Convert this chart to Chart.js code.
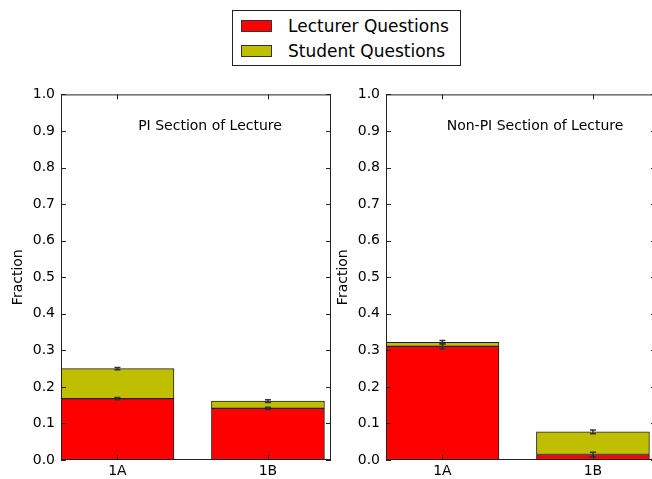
<!DOCTYPE html>
<html>
<head>
<meta charset="utf-8">
<script src="https://cdn.jsdelivr.net/npm/chart.js@4"></script>
<style>
  html, body { margin: 0; padding: 0; background: #fff; overflow: hidden; width: 652px; height: 479px; }
  .panel { position: absolute; top: 80px; width: 340px; height: 399px; }
  #legend {
    position: absolute; left: 232px; top: 10px; width: 229px; height: 56px;
    border: 1px solid #222; box-sizing: border-box; background: #fff;
    font-family: "DejaVu Sans", sans-serif; font-size: 17px; color: #000;
  }
  .item { position: absolute; left: 8px; height: 20px; line-height: 20px; }
  .swatch { position: absolute; left: 0; top: 4px; width: 31px; height: 12px; border: 1px solid #333; box-sizing: border-box; }
  .item span { position: absolute; left: 47px; white-space: nowrap; }
</style>
</head>
<body>
<div id="legend"></div>
<div class="panel" style="left:0px"><canvas id="piChart" width="340" height="399"></canvas></div>
<div class="panel" style="left:325px"><canvas id="nonPiChart" width="340" height="399"></canvas></div>
<script>
const categories = ['1A', '1B'];
const seriesNames = ['Lecturer Questions', 'Student Questions'];
const seriesColors = ['#ff0000', '#bfbf00'];
const yTicks = [0, 0.1, 0.2, 0.3, 0.4, 0.5, 0.6, 0.7, 0.8, 0.9, 1.0];

const piLecturer = [0.168, 0.141];
const piStudent = [0.082, 0.020];
const piLecturerErr = [0.003, 0.003];
const piStudentErr = [0.003, 0.004];

const nonPiLecturer = [0.311, 0.015];
const nonPiStudent = [0.011, 0.062];
const nonPiLecturerErr = [0.007, 0.006];
const nonPiStudentErr = [0.005, 0.005];

const FONT = '"DejaVu Sans", sans-serif';

// legend
const legend = document.getElementById('legend');
seriesNames.forEach((name, i) => {
    const d = document.createElement('div');
    d.className = 'item';
    d.style.top = (5 + i * 25) + 'px';
    d.innerHTML = '<div class="swatch" style="background:' + seriesColors[i] + '"></div><span>' + name + '</span>';
    legend.appendChild(d);
});

// frame, inward ticks, error bars, annotation
const decorations = {
    id: 'decorations',
    afterDatasetsDraw(chart, args, opts) {
        const ctx = chart.ctx;
        const a = chart.chartArea;
        const xs = chart.scales.x, ys = chart.scales.y;
        ctx.save();

        // error bars at the top of each stacked segment
        ctx.strokeStyle = '#333';
        ctx.lineWidth = 1.5;
        const totals = [0, 0];
        chart.data.datasets.forEach((ds, di) => {
            ds.data.forEach((p, i) => {
                totals[i] += p.y;
                const err = ds.errors[i];
                const x = xs.getPixelForValue(p.x);
                const y1 = ys.getPixelForValue(totals[i] - err);
                const y2 = ys.getPixelForValue(totals[i] + err);
                ctx.beginPath();
                ctx.moveTo(x, y1); ctx.lineTo(x, y2);
                ctx.moveTo(x - 3, y1); ctx.lineTo(x + 3, y1);
                ctx.moveTo(x - 3, y2); ctx.lineTo(x + 3, y2);
                ctx.stroke();
            });
        });

        // box and inward ticks
        ctx.strokeStyle = '#222';
        ctx.lineWidth = 1;
        ctx.strokeRect(a.left + 0.5, a.top + 0.5, a.right - a.left - 1, a.bottom - a.top - 1);
        ctx.beginPath();
        yTicks.forEach(v => {
            const y = Math.round(ys.getPixelForValue(v)) + 0.5;
            ctx.moveTo(a.left, y); ctx.lineTo(a.left + 5, y);
            ctx.moveTo(a.right, y); ctx.lineTo(a.right - 5, y);
        });
        categories.forEach((c, i) => {
            const x = Math.round(xs.getPixelForValue(i)) + 0.5;
            ctx.moveTo(x, a.bottom); ctx.lineTo(x, a.bottom - 5);
            ctx.moveTo(x, a.top); ctx.lineTo(x, a.top + 5);
        });
        ctx.stroke();

        // panel label
        ctx.fillStyle = '#000';
        ctx.font = '14px ' + FONT;
        ctx.textAlign = 'center';
        ctx.textBaseline = 'middle';
        ctx.fillText(opts.text, a.left + (a.right - a.left) * 0.552, ys.getPixelForValue(0.913));
        ctx.restore();
    }
};

function makeChart(id, lecturer, student, lecErr, stuErr, label) {
    const toPoints = arr => arr.map((v, i) => ({ x: i, y: v }));
    return new Chart(document.getElementById(id), {
        type: 'bar',
        data: {
            datasets: [
                { label: seriesNames[0], data: toPoints(lecturer), errors: lecErr,
                  backgroundColor: seriesColors[0], borderColor: '#222', borderWidth: 1,
                  barThickness: 113, borderSkipped: false },
                { label: seriesNames[1], data: toPoints(student), errors: stuErr,
                  backgroundColor: seriesColors[1], borderColor: '#222', borderWidth: 1,
                  barThickness: 113, borderSkipped: false }
            ]
        },
        options: {
            responsive: false,
            animation: false,
            layout: { padding: { top: 12, right: 9, left: 0, bottom: 0 } },
            plugins: {
                legend: { display: false },
                tooltip: { enabled: false },
                decorations: { text: label }
            },
            scales: {
                x: {
                    type: 'linear', stacked: true, min: -0.375, max: 1.419, offset: false,
                    grid: { display: false, drawTicks: false, offset: false },
                    border: { display: false },
                    afterBuildTicks: s => { s.ticks = categories.map((c, i) => ({ value: i })); },
                    afterFit: s => { s.height = 19; },
                    ticks: { color: '#000', font: { family: FONT, size: 14 }, padding: 3,
                             callback: v => categories[v] }
                },
                y: {
                    stacked: true, min: 0, max: 1,
                    grid: { display: false, drawTicks: false },
                    border: { display: false },
                    afterBuildTicks: s => { s.ticks = yTicks.map(v => ({ value: v })); },
                    afterFit: s => { s.width = 61; },
                    ticks: { color: '#000', font: { family: FONT, size: 14 }, padding: 6,
                             callback: v => v.toFixed(1) },
                    title: { display: true, text: 'Fraction', color: '#000',
                             font: { family: FONT, size: 14 }, padding: { top: 10, bottom: 0 } }
                }
            }
        },
        plugins: [decorations]
    });
}

makeChart('piChart', piLecturer, piStudent, piLecturerErr, piStudentErr, 'PI Section of Lecture');
makeChart('nonPiChart', nonPiLecturer, nonPiStudent, nonPiLecturerErr, nonPiStudentErr, 'Non-PI Section of Lecture');
</script>
</body>
</html>
